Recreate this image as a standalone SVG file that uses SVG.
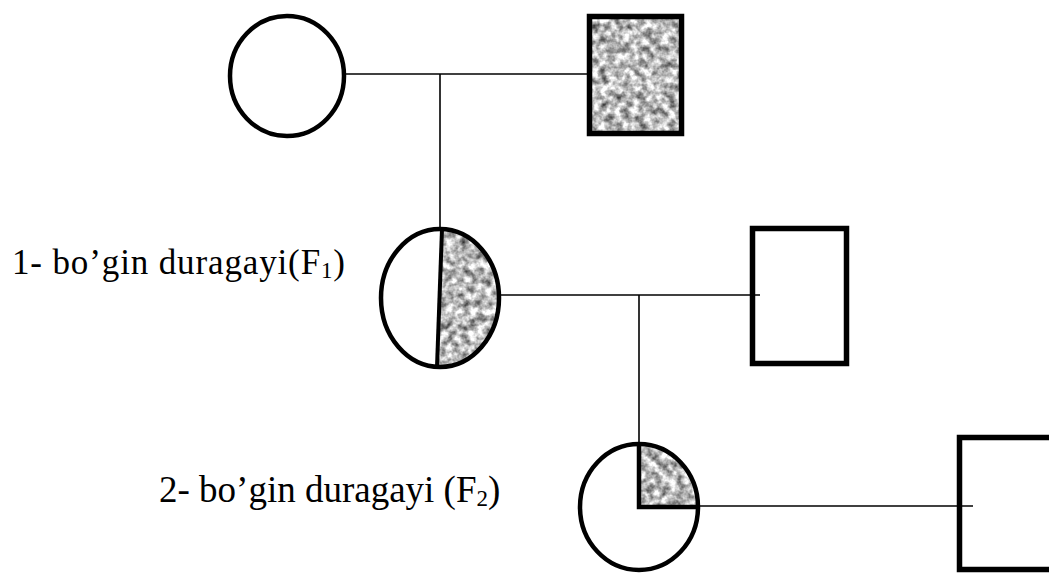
<svg xmlns="http://www.w3.org/2000/svg" width="1049" height="573" viewBox="0 0 1049 573">
<style>
.o{fill:none;stroke:#000;stroke-width:4.5}
.r{fill:none;stroke:#000;stroke-width:5.5}
.l{stroke:#000;stroke-width:1.6;fill:none}
.t{font-family:"Liberation Serif","Times New Roman",serif;fill:#000;font-size:35px}
.t2{font-size:37px}
.s{font-size:23px}
.g{fill:#999;filter:url(#grain)}
</style>
<defs>
<filter id="grain" x="0" y="0" width="1" height="1" color-interpolation-filters="sRGB">
<feTurbulence type="fractalNoise" baseFrequency="0.13" numOctaves="3" seed="7" result="n"/>
<feColorMatrix in="n" type="matrix" values="1.3 0 0 0 0.08  1.3 0 0 0 0.08  1.3 0 0 0 0.08  0 0 0 0 1" result="c"/>
<feComposite in="c" in2="SourceGraphic" operator="in"/>
</filter>
</defs>
<rect width="1049" height="573" fill="#fff"/>
<g id="connectors">
<line class="l" x1="346" y1="74" x2="588" y2="74"/>
<line class="l" x1="440" y1="74" x2="440" y2="229"/>
<line class="l" x1="500" y1="295" x2="760" y2="295"/>
<line class="l" x1="639" y1="295" x2="639" y2="445"/>
<line class="l" x1="699" y1="506" x2="973" y2="506"/>
</g>
<g id="p1-female">
<ellipse class="o" cx="287" cy="76" rx="57" ry="60"/>
</g>
<g id="p1-male">
<rect class="g" x="589.5" y="16.5" width="92" height="117"/>
<rect class="r" x="589.5" y="16.5" width="92" height="117"/>
</g>
<g id="f1-female">
<path class="g" d="M442,229 A59,69 0 0 1 437,367 Z"/>
<ellipse class="o" cx="440" cy="298" rx="59" ry="69"/>
<line x1="442" y1="229" x2="437" y2="367" stroke="#000" stroke-width="4"/>
</g>
<g id="f1-male">
<rect class="r" x="752.5" y="228.5" width="94" height="135"/>
</g>
<g id="f2-female">
<path class="g" d="M639,507 L639,444 A59,63 0 0 1 698,507 Z"/>
<ellipse class="o" cx="639" cy="507" rx="59" ry="63"/>
<path d="M639,444 L639,507 L698,507" fill="none" stroke="#000" stroke-width="4.5"/>
</g>
<g id="f2-male">
<rect class="r" x="959.5" y="437.5" width="110" height="132"/>
</g>
<g id="labels">
<text class="t" x="12" y="274" textLength="333" lengthAdjust="spacing">1- bo’gin duragayi(F<tspan class="s" dy="4">1</tspan><tspan dy="-4">)</tspan></text>
<text class="t t2" x="159" y="502">2- bo’gin duragayi (F<tspan class="s" dy="4">2</tspan><tspan dy="-4">)</tspan></text>
</g>
</svg>
